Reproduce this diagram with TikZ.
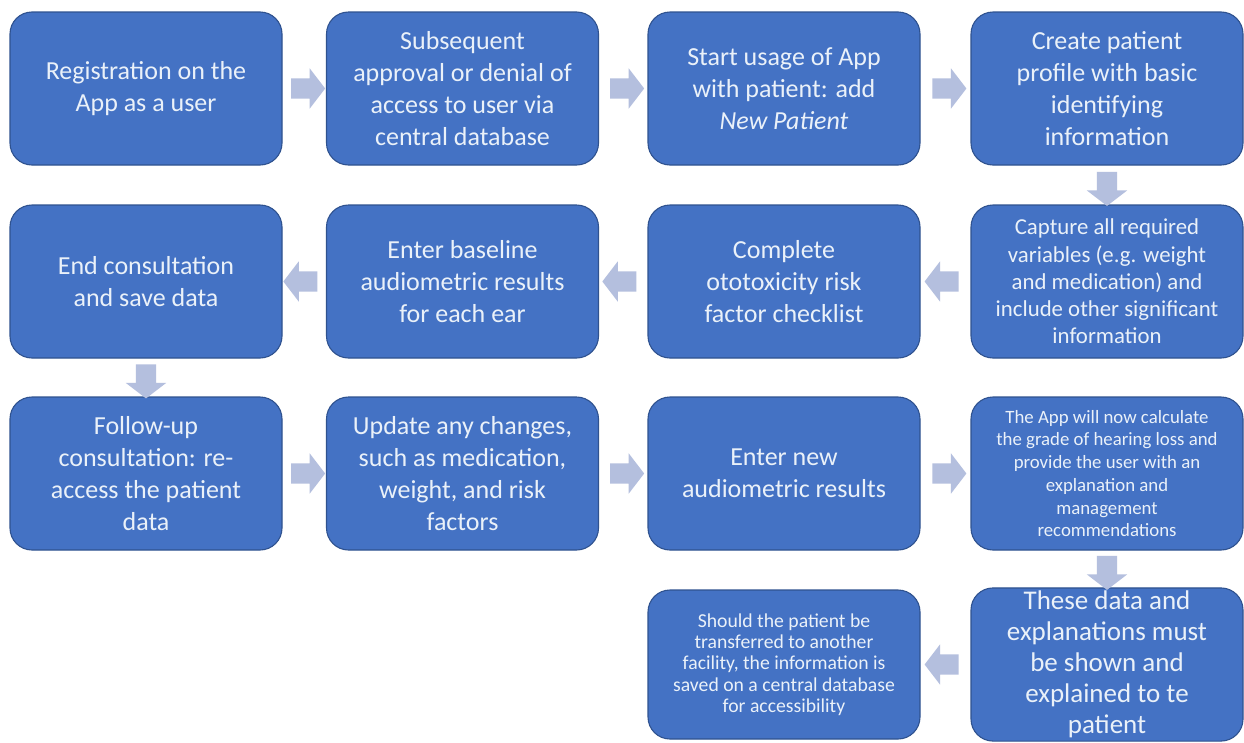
\documentclass[tikz,border=0pt]{standalone}
\usepackage{fontspec}
\setmainfont{Carlito}
\usetikzlibrary{shapes.arrows,calc}

\definecolor{boxblue}{RGB}{68,114,196}
\definecolor{boxedge}{RGB}{47,82,143}
\definecolor{flowarrow}{RGB}{180,191,222}
\definecolor{boxtext}{RGB}{234,241,249}

\tikzset{
  stepbox/.style={rectangle, rounded corners=22pt, fill=boxblue, draw=boxedge,
    line width=1.1pt, minimum width=272pt, minimum height=153pt, align=center,
    text=boxtext, inner sep=3pt, font=\fontsize{26}{32}\selectfont},
  flow/.style={single arrow, fill=flowarrow, draw=none, minimum height=34pt,
    inner sep=10pt, single arrow head extend=10pt,
    single arrow tip angle=105},
  flowright/.style={flow},
  flowleft/.style={flow, shape border rotate=180},
  flowdown/.style={flow, shape border rotate=270}
}

\begin{document}
\begin{tikzpicture}[x=1pt,y=-1pt]
  % canvas
  \fill[white] (0,0) rectangle (1244,742);
  \useasboundingbox (0,0) rectangle (1244,742);

  % first row
  \node[stepbox] (a1) at (146,88.5) {Registration on the\\App as a user};
  \node[stepbox] (a2) at (462.5,88.5) {Subsequent\\approval or denial of\\access to user via\\central database};
  \node[stepbox] (a3) at (784,88.5) {Start usage of App\\with patient: add\\\textit{New Patient}};
  \node[stepbox] (a4) at (1107,88.5) {Create patient\\profile with basic\\identifying\\information};

  % second row
  \node[stepbox] (b4) at (1107,281.5) [font=\fontsize{22.8}{27.3}\selectfont]
    {Capture all required\\variables (e.g. weight\\and medication) and\\include other significant\\information};
  \node[stepbox] (b3) at (784,281.5) {Complete\\ototoxicity risk\\factor checklist};
  \node[stepbox] (b2) at (462.5,281.5) {Enter baseline\\audiometric results\\for each ear};
  \node[stepbox] (b1) at (146,281.5) {End consultation\\and save data};

  % third row
  \node[stepbox] (c1) at (146,473.5) {Follow-up\\consultation: re-\\access the patient\\data};
  \node[stepbox] (c2) at (462.5,473.5) {Update any changes,\\such as medication,\\weight, and risk\\factors};
  \node[stepbox] (c3) at (784,473.5) {Enter new\\audiometric results};
  \node[stepbox] (c4) at (1107,473.5) [font=\fontsize{18.8}{22.7}\selectfont]
    {The App will now calculate\\the grade of hearing loss and\\provide the user with an\\explanation and\\management\\recommendations};

  % fourth row
  \node[stepbox, minimum height=149pt] (d4) at (1107,664.5) [font=\fontsize{27}{31}\selectfont]
    {These data and\\explanations must\\be shown and\\explained to te\\patient};
  \node[stepbox, minimum height=149pt] (d3) at (784,664.5) [font=\fontsize{19.7}{21.3}\selectfont]
    {Should the patient be\\transferred to another\\facility, the information is\\saved on a central database\\for accessibility};

  % block arrows between the steps
  \node[flowright] at ($(a1.east)!0.5!(a2.west)$) {};
  \node[flowright] at ($(a2.east)!0.5!(a3.west)$) {};
  \node[flowright] at ($(a3.east)!0.5!(a4.west)$) {};
  \node[flowdown]  at ($(a4.south)!0.5!(b4.north)$) {};
  \node[flowleft]  at ($(b4.west)!0.5!(b3.east)$) {};
  \node[flowleft]  at ($(b3.west)!0.5!(b2.east)$) {};
  \node[flowleft]  at ($(b2.west)!0.5!(b1.east)$) {};
  \node[flowdown]  at ($(b1.south)!0.5!(c1.north)$) {};
  \node[flowright] at ($(c1.east)!0.5!(c2.west)$) {};
  \node[flowright] at ($(c2.east)!0.5!(c3.west)$) {};
  \node[flowright] at ($(c3.east)!0.5!(c4.west)$) {};
  \node[flowdown]  at ($(c4.south)!0.5!(d4.north)$) {};
  \node[flowleft]  at ($(d4.west)!0.5!(d3.east)$) {};
\end{tikzpicture}
\end{document}
